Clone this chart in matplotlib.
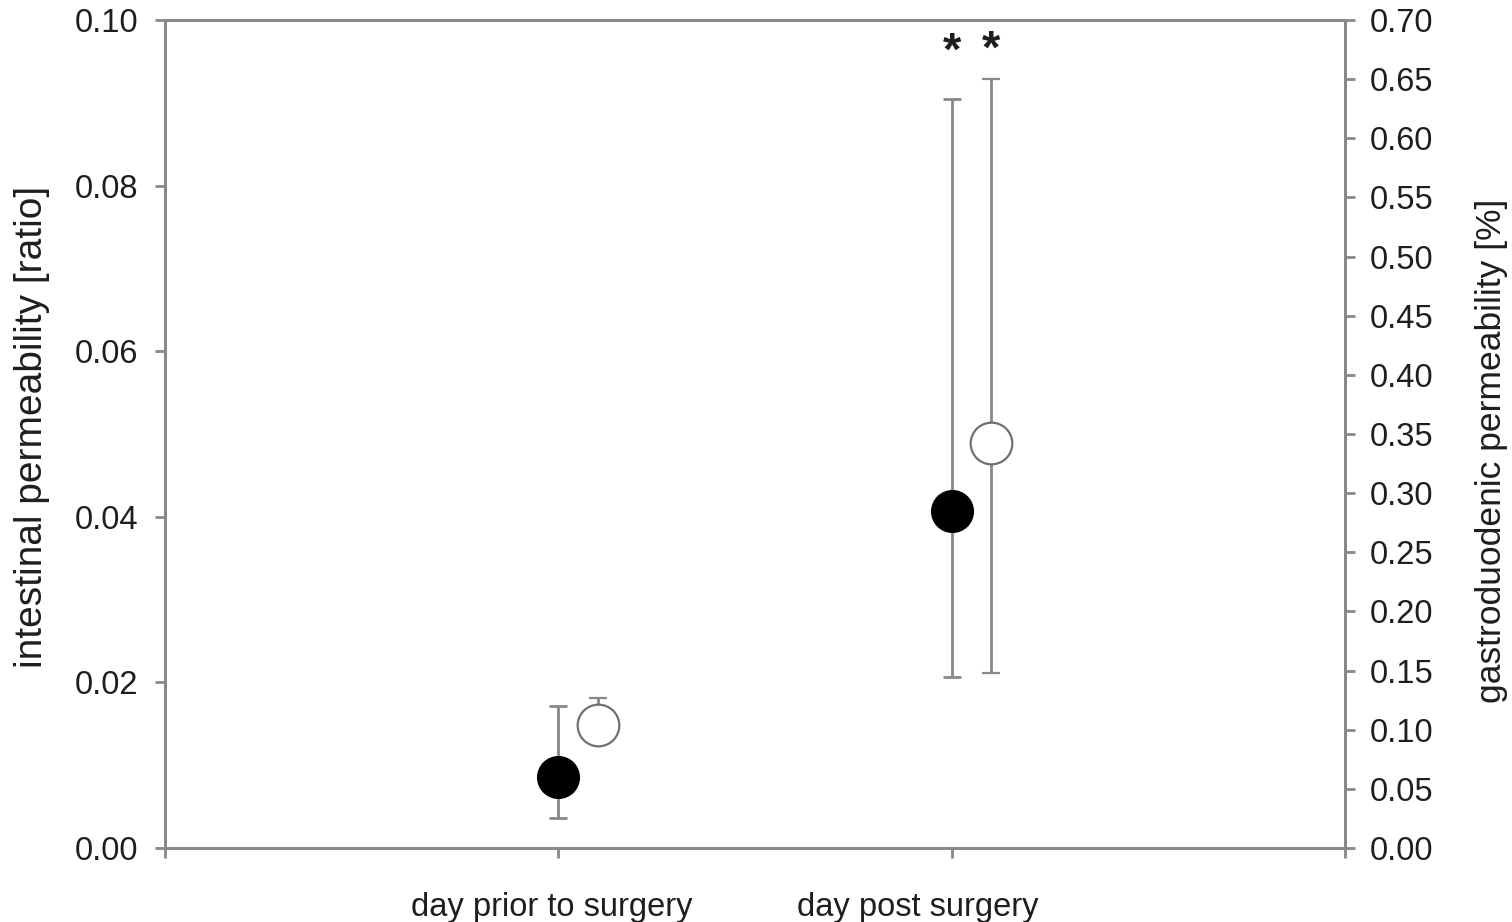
import matplotlib.pyplot as plt
import matplotlib.transforms as mtransforms
import numpy as np

# Intestinal permeability (left axis, ratio)
days = ['day prior to surgery', 'day post surgery']
intestinal = [0.0086, 0.0407]
intestinal_err_low = [0.0050, 0.0201]
intestinal_err_high = [0.0085, 0.0498]

# Gastroduodenic permeability (right axis, %)
gastro = [0.104, 0.342]
gastro_err_low = [0.010, 0.194]
gastro_err_high = [0.023, 0.308]

plt.rcParams['font.family'] = ['Liberation Sans', 'DejaVu Sans']
grey = '#888888'
text_col = '#1e1e1e'

fig = plt.figure(figsize=(15.12, 9.22), dpi=100)
ax = fig.add_axes([0.1091, 0.0803, 0.7805, 0.8980])
ax2 = ax.twinx()

x = np.arange(1, len(days) + 1)
offset = 0.1

ax.errorbar(x, intestinal, yerr=[intestinal_err_low, intestinal_err_high],
            fmt='o', color='black', markersize=30, ecolor=grey,
            elinewidth=2, capsize=6.5, capthick=2, zorder=3)
ax2.errorbar(x + offset, gastro, yerr=[gastro_err_low, gastro_err_high],
             fmt='o', markerfacecolor='white', markeredgecolor='#707070',
             markeredgewidth=1.6, markersize=30, ecolor=grey,
             elinewidth=2, capsize=6.5, capthick=2, zorder=3)

# Significance marks above the post-surgery bars
ax.text(2, 0.0960, '*', ha='center', va='center', fontsize=34,
        fontweight='bold', color=text_col)
ax.text(2 + offset, 0.0963, '*', ha='center', va='center', fontsize=34,
        fontweight='bold', color=text_col)

ax.set_xlim(0, 3)
ax.set_ylim(0, 0.10)
ax2.set_ylim(0, 0.70)

ax.set_xticks([0, 1, 2, 3])
ax.set_xticklabels(['', days[0], days[1], ''])
ax.set_yticks(np.arange(0, 0.101, 0.02))
ax.set_yticklabels(['%.2f' % v for v in np.arange(0, 0.101, 0.02)])
ax2.set_yticks(np.arange(0, 0.701, 0.05))
ax2.set_yticklabels(['%.2f' % v for v in np.arange(0, 0.701, 0.05)])

for a in (ax, ax2):
    for s in a.spines.values():
        s.set_color(grey)
        s.set_linewidth(2)
    a.tick_params(colors=grey, labelcolor=text_col, width=2, length=7,
                  labelsize=23.5)
ax.tick_params(axis='y', pad=12)
ax2.tick_params(axis='y', pad=11)
ax.tick_params(axis='x', pad=25)

# the category labels sit a little left of their ticks
shifts = [0, -0.07, -0.34, 0]
for lab, dx in zip(ax.get_xticklabels(), shifts):
    lab.set_transform(lab.get_transform() +
                      mtransforms.ScaledTranslation(dx, 0, fig.dpi_scale_trans))

ax.set_ylabel('intestinal permeability [ratio]', fontsize=28, color=text_col,
              ha='center', va='center')
ax.yaxis.set_label_coords(-0.1127, 0.508)
ax2.set_ylabel('gastroduodenic permeability [%]', fontsize=25.5, color=text_col,
               ha='center', va='center', rotation=90)
ax2.yaxis.set_label_coords(1.1237, 0.479)

fig.savefig('out.png', dpi=100)
